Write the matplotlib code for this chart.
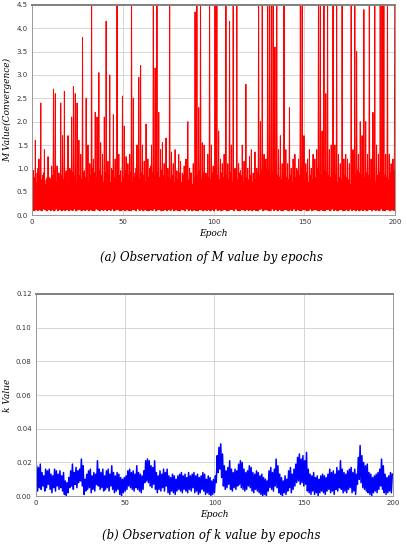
import matplotlib
matplotlib.use("Agg")
import matplotlib.pyplot as plt
import numpy as np

# M value: per-epoch spike peak, dense band top and trough (x100)
m_peak = [95, 160, 90, 120, 240, 85, 140, 75, 125, 80,
          105, 270, 260, 105, 90, 240, 170, 265, 95, 170,
          100, 210, 275, 260, 240, 160, 130, 380, 95, 250,
          150, 110, 500, 120, 220, 210, 305, 155, 130, 210,
          415, 115, 300, 100, 215, 120, 500, 130, 95, 255,
          190, 125, 110, 130, 500, 250, 90, 150, 295, 320,
          150, 115, 195, 120, 100, 150, 500, 315, 500, 220,
          140, 155, 110, 165, 100, 500, 135, 110, 140, 95,
          130, 115, 90, 105, 120, 200, 100, 90, 110, 435,
          500, 230, 500, 155, 150, 90, 130, 500, 150, 105,
          500, 500, 180, 120, 110, 130, 500, 110, 415, 150,
          500, 100, 500, 110, 95, 150, 115, 280, 100, 125,
          140, 90, 135, 100, 500, 200, 500, 130, 120, 500,
          500, 500, 500, 360, 500, 140, 170, 110, 500, 140,
          110, 230, 100, 120, 130, 100, 120, 500, 500, 170,
          110, 120, 140, 100, 130, 120, 140, 500, 500, 180,
          500, 260, 500, 140, 150, 500, 150, 500, 130, 110,
          500, 120, 130, 120, 110, 500, 140, 500, 350, 130,
          200, 170, 440, 200, 130, 500, 120, 220, 500, 150,
          130, 500, 500, 500, 130, 500, 130, 110, 120, 500]
m_band = [95, 80, 70, 100, 85, 75, 90, 65, 80, 70, 75, 85, 95, 70, 90, 80, 85, 75, 90, 70,
          80, 95, 90, 85, 70, 100, 85, 75, 90, 80, 95, 70, 85, 100, 90, 80, 75, 95, 85, 70,
          90, 75, 85, 70, 95, 80, 75, 90, 85, 70, 80, 95, 75, 85, 90, 70, 80, 100, 85, 75,
          90, 85, 70, 95, 80, 105, 90, 85, 75, 90, 80, 95, 85, 70, 90, 80, 75, 85, 70, 80,
          75, 90, 70, 85, 80, 70, 75, 90, 65, 80, 70, 85, 95, 75, 90, 70, 85, 80, 75, 90,
          100, 95, 85, 75, 90, 80, 95, 85, 75, 90, 70, 85, 80, 75, 90, 85, 70, 95, 80, 75,
          85, 70, 80, 75, 90, 85, 95, 80, 90, 100, 95, 85, 90, 100, 95, 85, 80, 75, 90, 85,
          80, 75, 85, 70, 90, 80, 95, 85, 100, 80, 75, 90, 70, 85, 75, 95, 80, 100, 90, 85,
          100, 95, 90, 85, 80, 90, 75, 85, 70, 80, 75, 70, 85, 80, 75, 65, 80, 90, 85, 95,
          90, 85, 95, 80, 90, 85, 75, 90, 80, 70, 85, 90, 95, 100, 85, 80, 75, 90, 85, 95]
m_low = [10, 9, 12, 10, 11, 9, 13, 11, 9, 12, 10, 11, 9, 13, 10, 12, 9, 11, 10, 12,
         9, 11, 10, 13, 9, 11, 12, 9, 12, 10, 12, 9, 11, 10, 9, 13, 11, 9, 12, 10,
         12, 9, 12, 10, 13, 9, 11, 12, 9, 10, 12, 9, 11, 10, 9, 12, 11, 9, 13, 10,
         12, 9, 12, 10, 9, 11, 10, 13, 9, 11, 12, 9, 10, 12, 9, 12, 10, 13, 9, 11,
         10, 9, 12, 11, 9, 13, 10, 12, 9, 11, 10, 9, 12, 11, 9, 11, 10, 12, 9, 12,
         9, 13, 10, 11, 9, 11, 12, 9, 10, 12, 12, 9, 13, 10, 9, 12, 11, 9, 12, 10,
         11, 9, 12, 10, 9, 12, 13, 9, 11, 11, 10, 9, 13, 10, 12, 9, 12, 10, 9, 12,
         11, 9, 11, 10, 13, 9, 12, 10, 9, 12, 12, 9, 10, 13, 9, 11, 12, 10, 9, 12,
         10, 9, 12, 12, 9, 13, 10, 11, 9, 11, 12, 9, 10, 12, 9, 13, 10, 12, 9, 12,
         9, 11, 10, 12, 9, 11, 12, 9, 12, 10, 11, 9, 13, 10, 9, 12, 11, 9, 11, 10]

# k value: per-epoch high and low (x1000)
k_hi = [18, 17, 19, 14, 12, 16, 15, 16, 13, 12, 16, 15, 13, 15, 12, 14, 9, 8, 11, 15,
        19, 14, 17, 15, 16, 22, 18, 10, 13, 15, 16, 12, 14, 13, 21, 16, 14, 16, 12, 15,
        16, 13, 18, 14, 12, 14, 13, 11, 10, 11, 12, 15, 16, 14, 15, 13, 18, 14, 13, 12,
        15, 21, 22, 21, 18, 17, 21, 14, 12, 15, 13, 16, 14, 16, 12, 11, 13, 12, 10, 12,
        13, 14, 12, 13, 11, 14, 12, 13, 14, 12, 13, 11, 12, 14, 13, 10, 12, 11, 9, 10,
        12, 24, 29, 31, 25, 18, 15, 17, 21, 16, 14, 16, 15, 19, 21, 20, 16, 14, 15, 18,
        17, 14, 13, 15, 14, 12, 13, 11, 10, 9, 15, 17, 14, 16, 22, 18, 13, 11, 9, 12,
        10, 15, 17, 13, 16, 19, 23, 25, 22, 24, 21, 26, 16, 13, 12, 14, 11, 12, 10, 12,
        13, 12, 11, 13, 16, 14, 15, 13, 17, 15, 21, 16, 14, 13, 15, 16, 17, 14, 16, 13,
        23, 30, 24, 20, 18, 19, 14, 13, 11, 12, 13, 14, 16, 22, 18, 13, 11, 12, 14, 13]
k_lo = [6, 3, 5, 4, 6, 3, 5, 7, 4, 2, 5, 3, 6, 4, 5, 3, 1, 0, 2, 5,
        6, 4, 7, 5, 8, 9, 6, 1, 3, 4, 5, 2, 4, 3, 7, 6, 4, 5, 3, 4,
        5, 3, 6, 4, 2, 3, 4, 1, 0, 2, 3, 4, 6, 5, 4, 3, 5, 4, 3, 2,
        4, 8, 9, 8, 6, 5, 7, 4, 2, 4, 3, 5, 3, 6, 2, 1, 3, 2, 1, 3,
        4, 3, 2, 4, 3, 2, 4, 3, 5, 2, 3, 1, 2, 4, 3, 1, 2, 1, 0, 1,
        2, 8, 14, 16, 11, 6, 4, 5, 7, 4, 3, 5, 4, 6, 7, 5, 4, 3, 4, 6,
        5, 3, 2, 4, 3, 2, 1, 0, 1, 0, 3, 5, 4, 3, 6, 5, 2, 1, 0, 2,
        1, 3, 5, 2, 4, 6, 8, 9, 7, 8, 6, 7, 3, 2, 1, 3, 1, 2, 0, 2,
        3, 2, 1, 3, 4, 2, 3, 1, 4, 3, 5, 4, 2, 3, 2, 4, 5, 2, 3, 1,
        7, 10, 8, 5, 4, 3, 2, 1, 0, 2, 3, 2, 4, 6, 4, 2, 1, 2, 3, 2]

epochs = np.arange(200)

# interleave troughs and peaks so the line looks like the dense trace
m_x = np.column_stack([epochs, epochs + 0.25, epochs + 0.5, epochs + 0.75]).ravel()
m_y = np.column_stack([m_low, m_band, m_low, m_peak]).ravel() / 100.0
k_x = np.column_stack([epochs, epochs + 0.5]).ravel()
k_y = np.column_stack([k_lo, k_hi]).ravel() / 1000.0

serif = "DejaVu Serif"

fig = plt.figure(figsize=(4.07, 5.5), dpi=100)

def style(ax):
    ax.grid(True, color="#d0d0d0", linewidth=0.6)
    ax.set_axisbelow(True)
    for s in ax.spines.values():
        s.set_color("#999999")
        s.set_linewidth(0.7)
    ax.spines["top"].set_color("#808080")
    ax.spines["top"].set_linewidth(1.4)
    ax.tick_params(length=0, labelsize=5, colors="#333333", pad=3)

ax1 = fig.add_axes([0.079, 0.609, 0.892, 0.382])
ax1.plot(m_x, m_y, color="red", linewidth=0.7)
ax1.set_xlim(0, 200)
ax1.set_ylim(0, 4.5)
ax1.set_xticks([0, 50, 100, 150, 200])
ax1.set_yticks(np.arange(0, 4.51, 0.5))
style(ax1)
ax1.set_xlabel("Epoch", family=serif, style="italic", fontsize=6.5, labelpad=3)
ax1.set_ylabel("M Value(Convergence)", family=serif, style="italic", fontsize=6.5, labelpad=3)
fig.text(0.52, 0.531, "(a) Observation of M value by epochs", family=serif,
         style="italic", fontsize=8.5, ha="center", va="center")

ax2 = fig.add_axes([0.088, 0.098, 0.878, 0.3675])
ax2.plot(k_x, k_y, color="blue", linewidth=1.1)
ax2.set_xlim(0, 200)
ax2.set_ylim(0, 0.12)
ax2.set_xticks([0, 50, 100, 150, 200])
ax2.set_yticks(np.arange(0, 0.121, 0.02))
ax2.set_yticklabels(["%.2f" % v for v in np.arange(0, 0.121, 0.02)])
style(ax2)
ax2.set_xlabel("Epoch", family=serif, style="italic", fontsize=6.5, labelpad=3)
ax2.set_ylabel("k Value", family=serif, style="italic", fontsize=6.5, labelpad=3)
fig.text(0.52, 0.027, "(b) Observation of k value by epochs", family=serif,
         style="italic", fontsize=8.5, ha="center", va="center")

fig.savefig("out.png", dpi=100)
